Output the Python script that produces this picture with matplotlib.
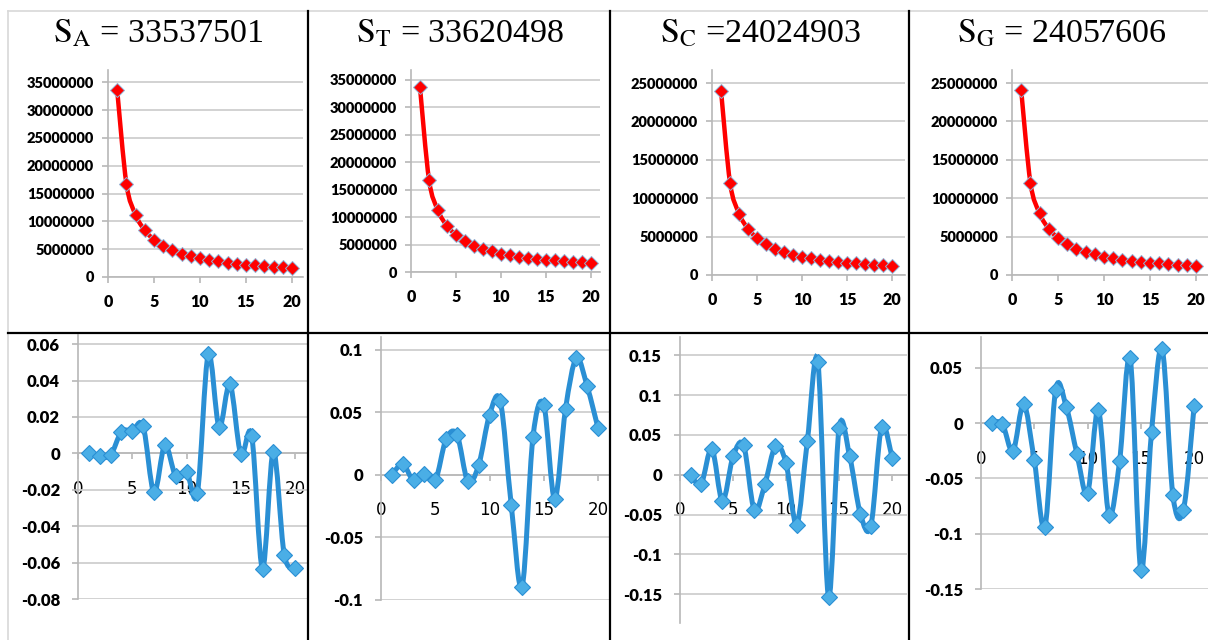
import numpy as np
import matplotlib
matplotlib.use("Agg")
import matplotlib.pyplot as plt
from matplotlib.path import Path
from matplotlib.patches import PathPatch
from matplotlib.lines import Line2D

plt.rcParams['mathtext.fontset'] = 'stix'

# x positions 1..20
n_vals = list(range(1, 21))

# totals shown in the headers
bases = ['A', 'T', 'C', 'G']
totals = [33537501, 33620498, 24024903, 24057606]
eq_text = [' = 33537501', ' = 33620498', ' =24024903', ' = 24057606']

# top row: decaying sums
sum_a = [33537501, 16768751, 11179167, 8384375, 6707500, 5589584, 4791072, 4192188,
         3726389, 3353750, 3048864, 2794792, 2579808, 2395536, 2235833, 2096094,
         1972794, 1863195, 1765132, 1676875]
sum_t = [33620498, 16810249, 11206833, 8405125, 6724100, 5603416, 4802928, 4202562,
         3735611, 3362050, 3056409, 2801708, 2586192, 2401464, 2241367, 2101281,
         1977676, 1867805, 1769500, 1681025]
sum_c = [24024903, 12012452, 8008301, 6006226, 4804981, 4004151, 3432129, 3003113,
         2669434, 2402490, 2184082, 2002075, 1848069, 1716064, 1601660, 1501556,
         1413230, 1334717, 1264469, 1201245]
sum_g = [24057606, 12028803, 8019202, 6014402, 4811521, 4009601, 3436801, 3007201,
         2673067, 2405761, 2187055, 2004801, 1850585, 1718400, 1603840, 1503600,
         1415153, 1336534, 1266190, 1202880]

# bottom row: fluctuations
dev_a = [0.0, -0.0015, -0.001, 0.0118, 0.0125, 0.0149, -0.0215, 0.0045, -0.0124, -0.010,
         -0.0218, 0.0545, 0.0144, 0.038, -0.0005, 0.0098, -0.0633, 0.001, -0.0556, -0.0629]
dev_t = [0.0, 0.0085, -0.0045, 0.001, -0.0045, 0.0285, 0.032, -0.0053, 0.0077, 0.0479,
         0.0585, -0.024, -0.0896, 0.030, 0.0559, -0.0194, 0.0524, 0.0931, 0.0705, 0.0372]
dev_c = [-0.0008, -0.011, 0.0327, -0.033, 0.023, 0.0369, -0.044, -0.012, 0.036, 0.0147,
         -0.0624, 0.0419, 0.1416, -0.153, 0.059, 0.023, -0.049, -0.0637, 0.0599, 0.0214]
dev_g = [0.0, -0.0006, -0.0253, 0.0175, -0.0337, -0.094, 0.0301, 0.015, -0.0277, -0.0633,
         0.0123, -0.0828, -0.0346, 0.0587, -0.133, -0.0081, 0.0672, -0.0648, -0.0783, 0.016]

top_series = [sum_a, sum_t, sum_c, sum_g]
bot_series = [dev_a, dev_t, dev_c, dev_g]

top_ticks = [np.arange(0, 35000001, 5000000), np.arange(0, 35000001, 5000000),
             np.arange(0, 25000001, 5000000), np.arange(0, 25000001, 5000000)]
top_ylim = [37200000, 36800000, 26700000, 26700000]
bot_ticks = [[-0.08, -0.06, -0.04, -0.02, 0, 0.02, 0.04, 0.06],
             [-0.1, -0.05, 0, 0.05, 0.1],
             [-0.15, -0.1, -0.05, 0, 0.05, 0.1, 0.15],
             [-0.15, -0.1, -0.05, 0, 0.05]]
bot_labels = [['-0.08', '-0.06', '-0.04', '-0.02', '0', '0.02', '0.04', '0.06'],
              ['-0.1', '-0.05', '0', '0.05', '0.1'],
              ['-0.15', '-0.1', '-0.05', '0', '0.05', '0.1', '0.15'],
              ['-0.15', '-0.1', '-0.05', '0', '0.05']]
bot_ylim = [(-0.08, 0.065), (-0.1, 0.110), (-0.186, 0.173), (-0.15, 0.078)]

W, H = 1208, 640
fig = plt.figure(figsize=(W / 100, H / 100), dpi=100)


def box(left, top, right, bottom):
    return [left / W, 1 - bottom / H, (right - left) / W, (bottom - top) / H]


def smooth_path(xs, ys):
    # Bezier through every point, the way spreadsheet "smoothed lines" look
    pts = np.column_stack([xs, ys]).astype(float)
    verts = [pts[0]]
    codes = [Path.MOVETO]
    n = len(pts)
    for i in range(n - 1):
        p_prev = pts[i - 1] if i > 0 else pts[i]
        p_next2 = pts[i + 2] if i + 2 < n else pts[i + 1]
        c1 = pts[i] + (pts[i + 1] - p_prev) / 6
        c2 = pts[i + 1] - (p_next2 - pts[i]) / 6
        verts += [c1, c2, pts[i + 1]]
        codes += [Path.CURVE4] * 3
    return Path(verts, codes)


def style_axes(ax):
    for s in ['top', 'right']:
        ax.spines[s].set_visible(False)
    for s in ['left', 'bottom']:
        ax.spines[s].set_color('#b8b8b8')
        ax.spines[s].set_linewidth(1.2)
    ax.grid(axis='y', color='#cfcfcf', linewidth=1.3)
    ax.set_axisbelow(True)
    ax.tick_params(axis='both', direction='out', length=4, color='#b8b8b8', width=1.2)
    ax.set_xticks([0, 5, 10, 15, 20])
    for lab in ax.get_xticklabels() + ax.get_yticklabels():
        lab.set_fontfamily('Lato')
        lab.set_fontweight('heavy')


top_boxes = [(108, 70, 303, 277), (411, 70, 600, 272), (712, 70, 905, 275), (1012, 70, 1208, 275)]
bot_boxes = [(78, 335, 307, 599), (381, 337, 610, 600), (680, 337, 907, 623), (981, 337, 1208, 589)]
top_xmax = [21.2, 21.0, 21.4, 21.3]
bot_xmax = [21.1, 21.1, 21.4, 21.3]
centers = [158, 460, 761, 1062]

red = '#ff0000'
blue_line = '#2a8fd4'
blue_mark = '#4aaee6'

for k in range(4):
    # header
    fig.text(centers[k] / W, 1 - 33 / H, r'$\mathrm{S_{%s}}$' % bases[k] + eq_text[k],
             ha='center', va='center', fontsize=24.5, family='Liberation Serif')

    # top chart
    ax = fig.add_axes(box(*top_boxes[k]))
    ys = top_series[k]
    ax.add_patch(PathPatch(smooth_path(n_vals, ys), facecolor='none', edgecolor=red,
                           linewidth=3.2, zorder=3))
    ax.plot(n_vals, ys, linestyle='none', marker='D', markersize=7, color=red,
            markeredgecolor='#8fb4d8', markeredgewidth=0.7, zorder=4)
    ax.set_xlim(0, top_xmax[k])
    ax.set_ylim(0, top_ylim[k])
    ax.set_yticks(top_ticks[k])
    ax.set_yticklabels([str(int(v)) for v in top_ticks[k]])
    style_axes(ax)
    ax.tick_params(axis='y', labelsize=10.5, pad=6)
    ax.tick_params(axis='x', labelsize=11.5, pad=8)

    # bottom chart
    ax = fig.add_axes(box(*bot_boxes[k]))
    ys = bot_series[k]
    ax.add_patch(PathPatch(smooth_path(n_vals, ys), facecolor='none', edgecolor=blue_line,
                           linewidth=3.6, zorder=3))
    ax.plot(n_vals, ys, linestyle='none', marker='D', markersize=8, color=blue_mark,
            markeredgecolor=blue_line, markeredgewidth=0.8, zorder=4)
    ax.set_xlim(0, bot_xmax[k])
    ax.set_ylim(*bot_ylim[k])
    ax.set_yticks(bot_ticks[k])
    ax.set_yticklabels(bot_labels[k])
    style_axes(ax)
    ax.spines['bottom'].set_position(('data', 0))
    ax.tick_params(axis='y', labelsize=12, pad=9)
    ax.tick_params(axis='x', labelsize=12, pad=15)

# cell borders
fig.add_artist(Line2D([8 / W, 1], [1 - 11 / H] * 2, color='#d8d8d8', linewidth=1.2))
fig.add_artist(Line2D([8 / W] * 2, [0, 1 - 11 / H], color='#d8d8d8', linewidth=1.2))
fig.add_artist(Line2D([8 / W, 1], [1 - 333 / H] * 2, color='black', linewidth=1.6))
for xv in [308, 610, 909]:
    fig.add_artist(Line2D([xv / W] * 2, [0, 1 - 11 / H], color='black', linewidth=1.6))

fig.savefig('out.png', dpi=100)
